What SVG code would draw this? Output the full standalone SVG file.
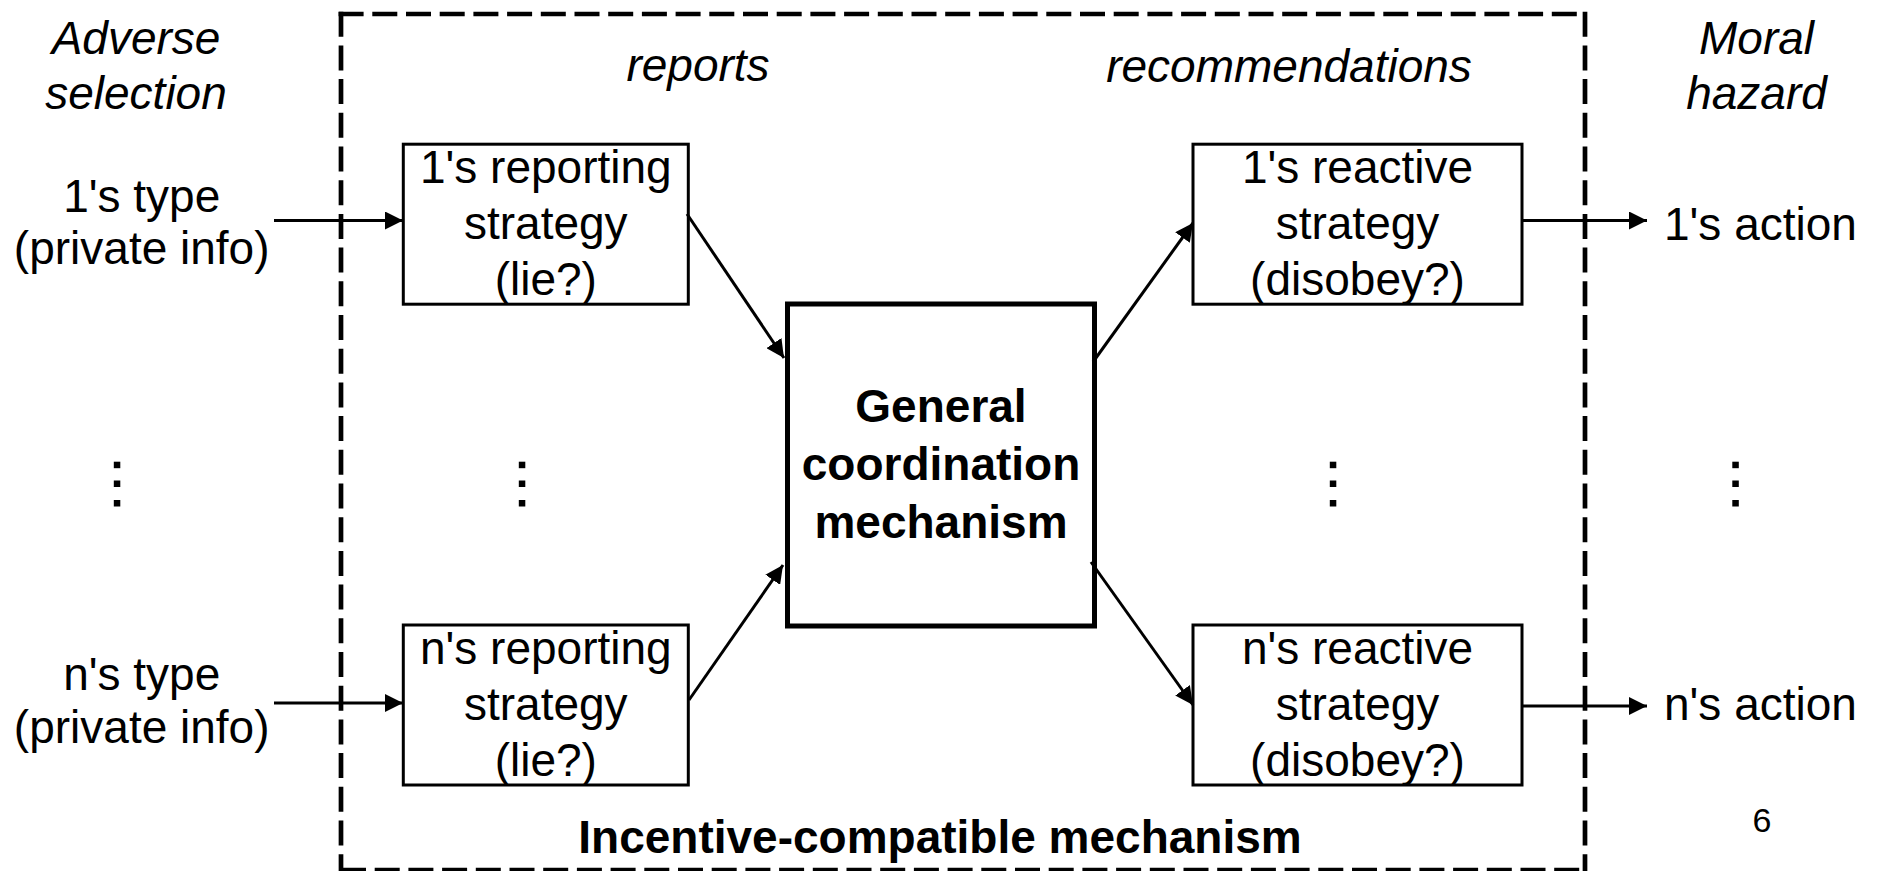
<svg xmlns="http://www.w3.org/2000/svg" width="1879" height="871" viewBox="0 0 1879 871">
<style>
.t{font-family:"Liberation Sans",Arial,Helvetica,sans-serif;font-size:46px;fill:#000;text-anchor:middle}
.i{font-style:italic}
.b{font-weight:bold}
.box{fill:#fff;stroke:#000;stroke-width:3}
.core{fill:#fff;stroke:#000;stroke-width:5}
.con{stroke:#000;stroke-width:3;fill:none;marker-end:url(#ah)}
.dash{stroke:#000;stroke-width:4.7;stroke-dasharray:25 8.7;fill:none}
.dot{fill:#000}
</style>
<defs>
<marker id="ah" markerUnits="userSpaceOnUse" markerWidth="18" markerHeight="18" refX="18" refY="9" orient="auto"><path d="M0,0L18,9L0,18z" fill="#000"/></marker>
</defs>
<rect width="1879" height="871" fill="#fff"/>

<g id="frame">
<line class="dash" x1="338.6" y1="14" x2="1585" y2="14"/>
<line class="dash" x1="341" y1="11.7" x2="341" y2="871"/>
<line class="dash" x1="1585" y1="11.7" x2="1585" y2="871"/>
<line class="dash" x1="341" y1="870" x2="1585" y2="870"/>
<text class="t b" x="940" y="853">Incentive-compatible mechanism</text>
</g>

<g id="headers">
<text class="t i" x="136" y="54">Adverse</text>
<text class="t i" x="136" y="108.5">selection</text>
<text class="t i" x="698" y="81">reports</text>
<text class="t i" x="1289" y="81.5">recommendations</text>
<text class="t i" x="1756.5" y="53.5">Moral</text>
<text class="t i" x="1756.5" y="109">hazard</text>
</g>

<g id="type1">
<text class="t" x="141.7" y="212">1's type</text>
<text class="t" x="141.7" y="264">(private info)</text>
</g>
<g id="typen">
<text class="t" x="141.7" y="690">n's type</text>
<text class="t" x="141.7" y="743">(private info)</text>
</g>

<g id="report1">
<rect class="box" x="403.3" y="144.2" width="285" height="160"/>
<text class="t" x="545.8" y="183">1's reporting</text>
<text class="t" x="545.8" y="239">strategy</text>
<text class="t" x="545.8" y="295">(lie?)</text>
</g>
<g id="reportn">
<rect class="box" x="403.3" y="625" width="285" height="160"/>
<text class="t" x="545.8" y="664">n's reporting</text>
<text class="t" x="545.8" y="720">strategy</text>
<text class="t" x="545.8" y="776">(lie?)</text>
</g>

<g id="mechanism">
<rect class="core" x="787.5" y="304" width="307" height="322"/>
<text class="t b" x="941" y="422">General</text>
<text class="t b" x="941" y="480">coordination</text>
<text class="t b" x="941" y="538">mechanism</text>
</g>

<g id="react1">
<rect class="box" x="1193" y="144.2" width="329" height="160"/>
<text class="t" x="1357.5" y="183">1's reactive</text>
<text class="t" x="1357.5" y="239">strategy</text>
<text class="t" x="1357.5" y="295">(disobey?)</text>
</g>
<g id="reactn">
<rect class="box" x="1193" y="625" width="329" height="160"/>
<text class="t" x="1357.5" y="664">n's reactive</text>
<text class="t" x="1357.5" y="720">strategy</text>
<text class="t" x="1357.5" y="776">(disobey?)</text>
</g>

<g id="action1">
<text class="t" style="text-anchor:start" x="1664" y="240">1's action</text>
</g>
<g id="actionn">
<text class="t" style="text-anchor:start" x="1664" y="720">n's action</text>
</g>

<g id="page-number">
<text class="t" style="font-size:34px" x="1762" y="832">6</text>
</g>

<g id="ellipses">
<rect class="dot" x="113.8" y="461.7" width="6.5" height="6.5"/>
<rect class="dot" x="113.8" y="480.5" width="6.5" height="6.5"/>
<rect class="dot" x="113.8" y="500" width="6.5" height="6.5"/>
<rect class="dot" x="518.8" y="461.7" width="6.5" height="6.5"/>
<rect class="dot" x="518.8" y="480.5" width="6.5" height="6.5"/>
<rect class="dot" x="518.8" y="500" width="6.5" height="6.5"/>
<rect class="dot" x="1329.8" y="461.7" width="6.5" height="6.5"/>
<rect class="dot" x="1329.8" y="480.5" width="6.5" height="6.5"/>
<rect class="dot" x="1329.8" y="500" width="6.5" height="6.5"/>
<rect class="dot" x="1732.3" y="461.7" width="6.5" height="6.5"/>
<rect class="dot" x="1732.3" y="480.5" width="6.5" height="6.5"/>
<rect class="dot" x="1732.3" y="500" width="6.5" height="6.5"/>
</g>

<g id="connectors">
<line class="con" x1="274" y1="220.5" x2="403" y2="220.5"/>
<line class="con" x1="274" y1="703" x2="403" y2="703"/>
<line class="con" x1="687" y1="214" x2="784" y2="358"/>
<line class="con" x1="689" y1="700" x2="783" y2="565"/>
<line class="con" x1="1093" y1="362" x2="1193" y2="223"/>
<line class="con" x1="1091" y1="562" x2="1193" y2="705"/>
<line class="con" x1="1522" y1="220.5" x2="1647" y2="220.5"/>
<line class="con" x1="1522" y1="706" x2="1647" y2="706"/>
</g>
</svg>
